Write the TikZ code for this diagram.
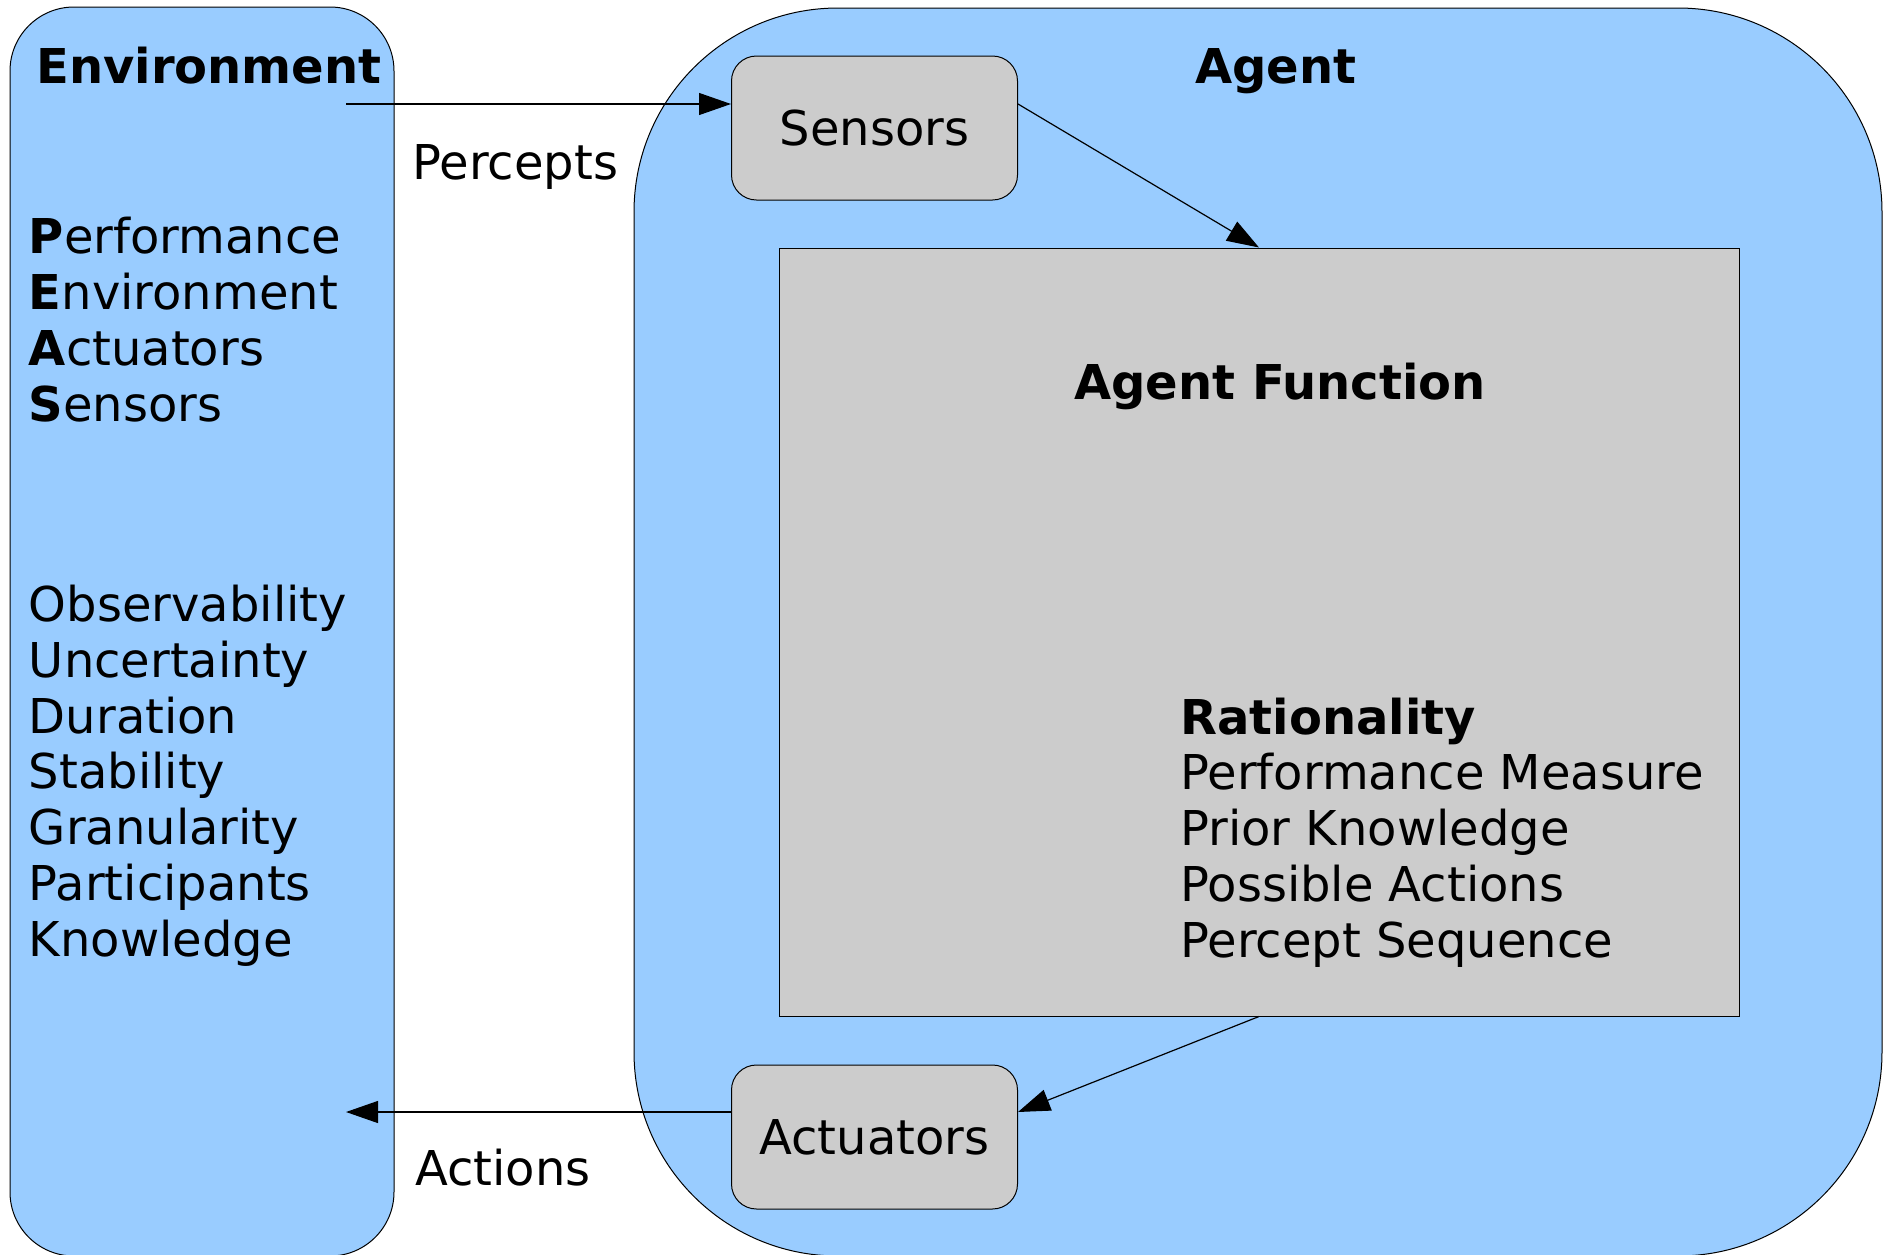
\documentclass[tikz,border=0pt]{standalone}
\usepackage{fontspec}
\setmainfont{DejaVu Sans}
\usepackage{tikz}
\usetikzlibrary{arrows.meta,positioning}
\definecolor{skyfill}{HTML}{99CCFF}
\definecolor{boxgray}{HTML}{CCCCCC}
\newcommand{\agtext}{\fontsize{24}{27.85}\selectfont}
\tikzset{
  bigbox/.style={rectangle, draw=black, fill=skyfill, line width=0.5pt, inner sep=0pt},
  unit/.style={rectangle, rounded corners=12.5pt, draw=black, fill=boxgray,
               line width=0.5pt, minimum width=143pt, minimum height=72pt,
               inner sep=0pt, font=\agtext},
  fnbox/.style={rectangle, draw=black, fill=boxgray, line width=0.5pt, inner sep=0pt},
  flow/.style={line width=0.6pt, -{Triangle[length=16pt,width=11pt]}},
  lab/.style={inner sep=0pt, font=\agtext},
  headlab/.style={inner sep=0pt, font=\agtext\bfseries}
}

\begin{document}
\begin{tikzpicture}[x=0.5pt,y=-0.5pt]
  \useasboundingbox (0,0) rectangle (1897,1254);
  % the two big panels
  \node[bigbox, rounded corners=32pt, minimum width=192pt, minimum height=624.5pt]
    (env) at (202,631.5) {};
  \node[bigbox, rounded corners=102pt, minimum width=624pt, minimum height=624pt]
    (agent) at (1258,632) {};
  % parts of the agent
  \node[unit] (sensors) at (874.5,128) {Sensors};
  \node[unit] (actuators) at (874.5,1137) {Actuators};
  \node[fnbox, minimum width=480pt, minimum height=384pt] (func) at (1259,632) {};

  \node[headlab, anchor=base] (envtitle) at (209,83) {Environment};
  \node[headlab, anchor=base] (agtitle) at (1276,83) {Agent};
  \node[headlab, anchor=base] (fntitle) at (1280,399) {Agent Function};
  \node[lab, anchor=base west] (percepts) at (412,179) {Percepts};
  \node[lab, anchor=base west] (actions) at (415,1185) {Actions};

  % multi-line blocks sit on the baseline of their last line
  \node[lab, align=left, anchor=base west] (peas) at (28.5,421)
    {\textbf{P}erformance\\\textbf{E}nvironment\\\textbf{A}ctuators\\\textbf{S}ensors};
  \node[lab, align=left, anchor=base west] (props) at (28.5,956)
    {Observability\\Uncertainty\\Duration\\Stability\\Granularity\\Participants\\Knowledge};
  \node[lab, align=left, anchor=base west] (ratio) at (1180,957)
    {\textbf{Rationality}\\Performance Measure\\Prior Knowledge\\Possible Actions\\Percept Sequence};

  % percepts in, actions out
  \coordinate (pin) at (346,104);
  \coordinate (aout) at (346,1112);
  \draw[flow] (pin) -- (pin -| sensors.west);
  \draw[flow] (sensors.east |- pin) -- (func.north);
  \draw[flow] (func.south) -- (actuators.east |- aout);
  \draw[flow] (aout -| actuators.west) -- (aout);
\end{tikzpicture}
\end{document}
